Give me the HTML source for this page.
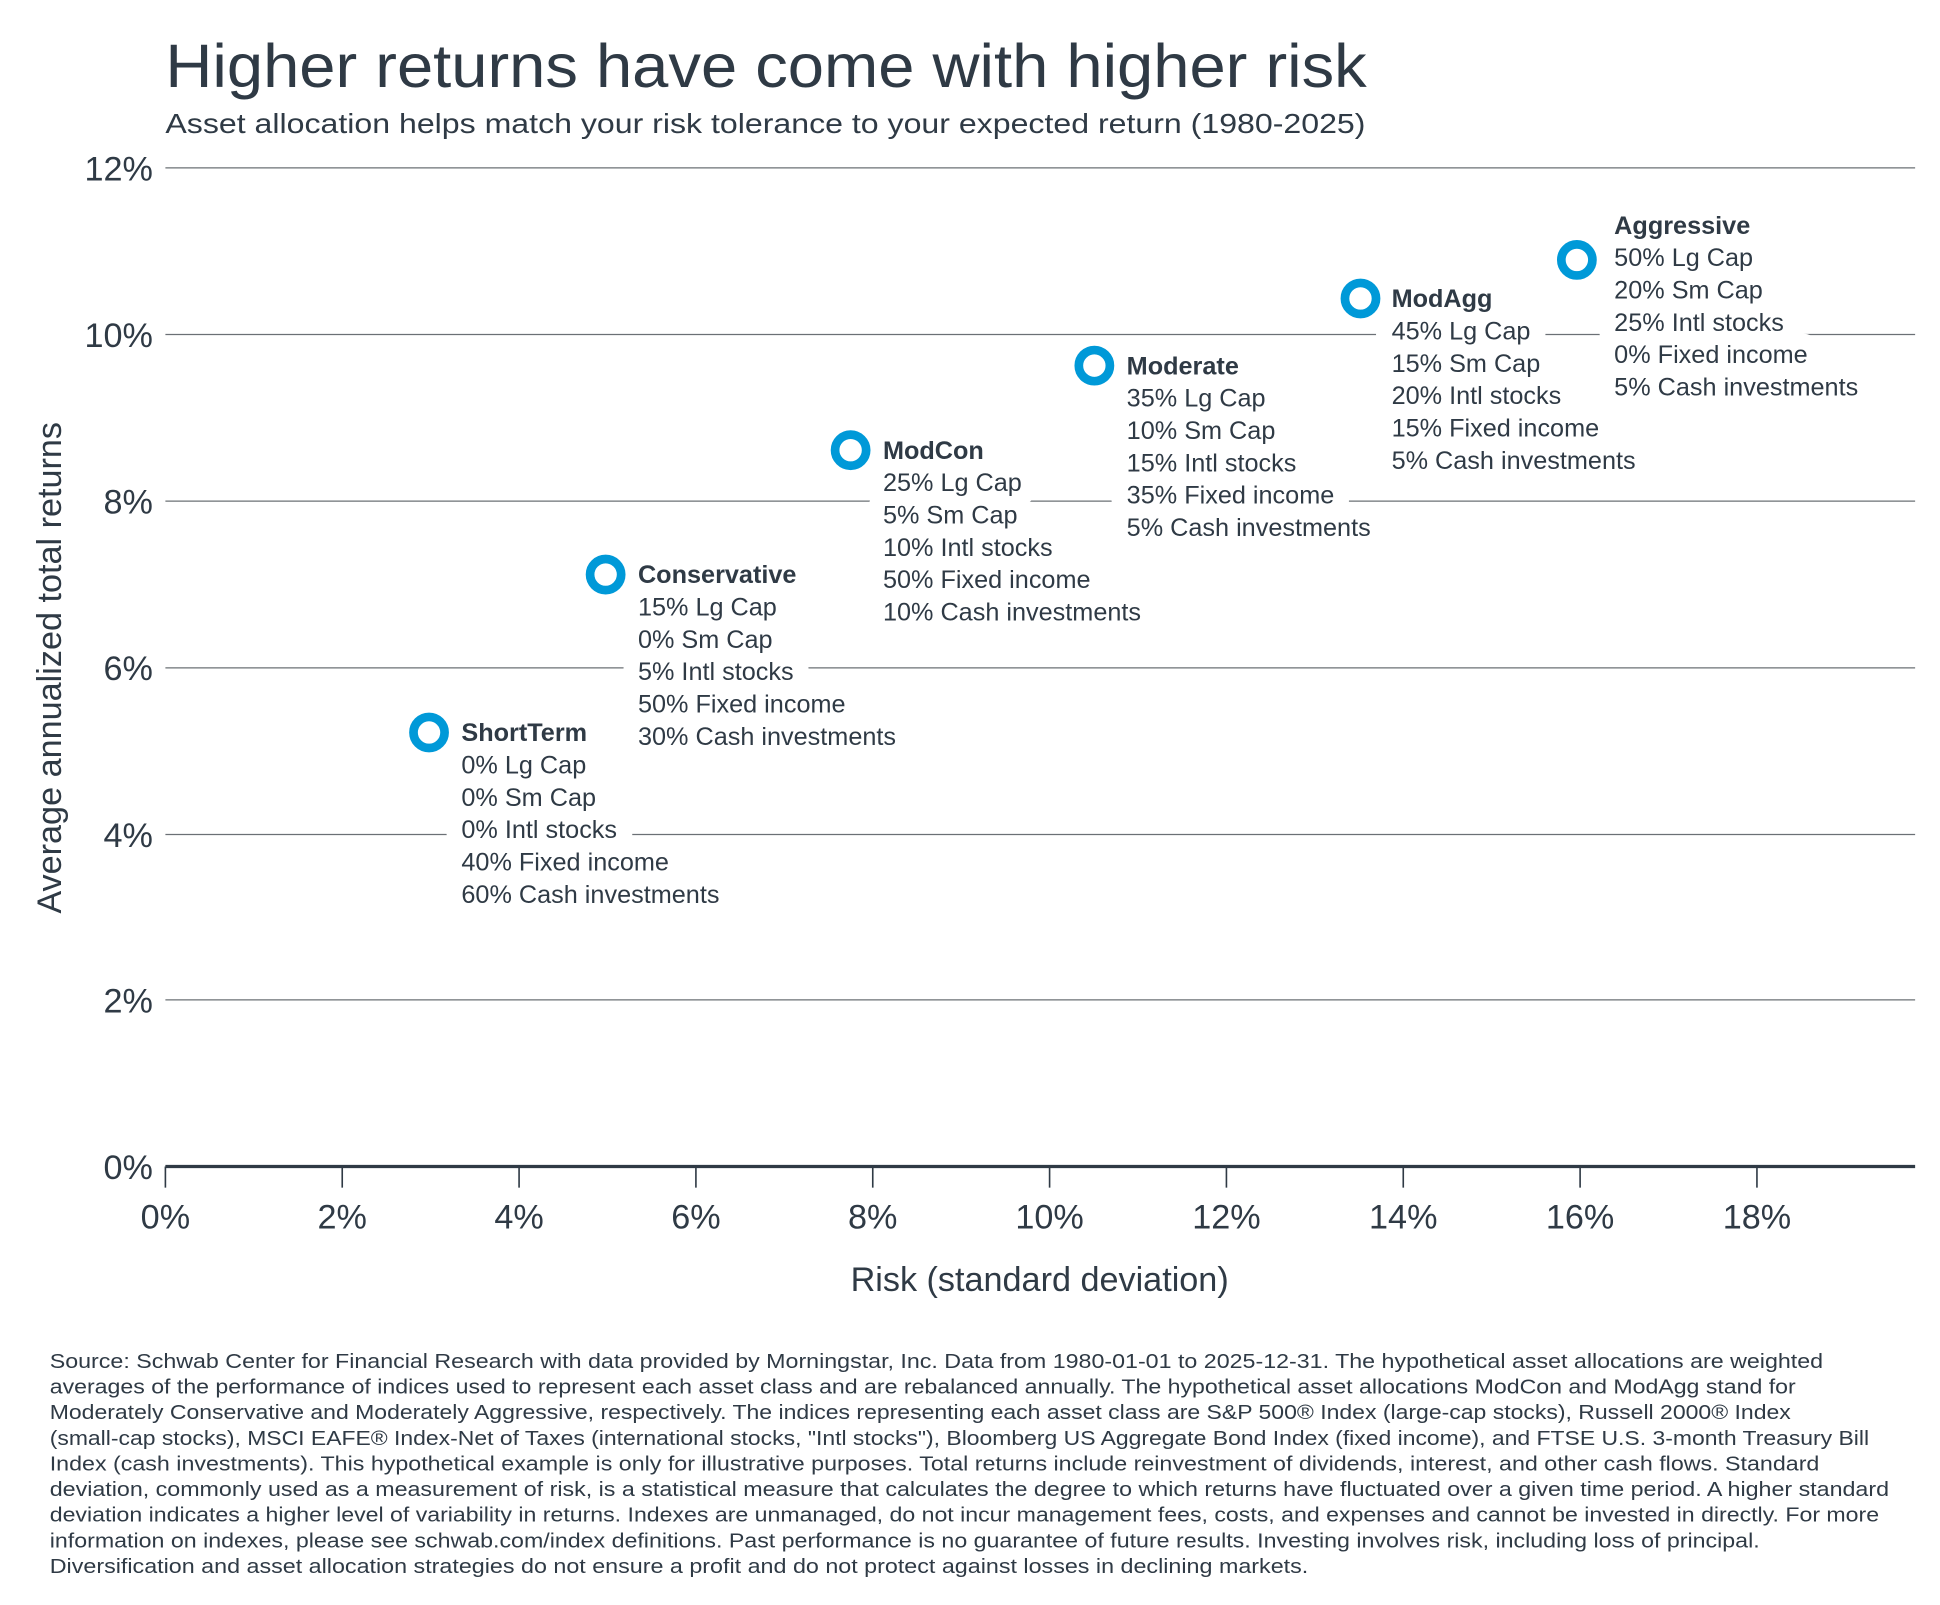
<!DOCTYPE html>
<html><head><meta charset="utf-8"><style>
html,body{margin:0;padding:0;background:#fff;}
svg{display:block;}
text{font-family:"Liberation Sans",sans-serif;}
.ax{font-size:27.5px;}
.fn{font-size:16.2px;}
</style></head><body>
<svg width="1940" height="1605" viewBox="0 0 1560 1290.6" preserveAspectRatio="none" xmlns="http://www.w3.org/2000/svg">
<g fill="#2f3a45">
<text x="133" y="70" style="font-size:49px" textLength="966" lengthAdjust="spacingAndGlyphs">Higher returns have come with higher risk</text>
<text x="133" y="107" style="font-size:22.5px" textLength="965" lengthAdjust="spacingAndGlyphs">Asset allocation helps match your risk tolerance to your expected return (1980-2025)</text>
</g>
<g stroke="#6b7075" stroke-width="1">
<line x1="133" x2="1540" y1="135" y2="135"/>
<line x1="133" x2="1540" y1="269" y2="269"/>
<line x1="133" x2="1540" y1="403" y2="403"/>
<line x1="133" x2="1540" y1="537" y2="537"/>
<line x1="133" x2="1540" y1="671" y2="671"/>
<line x1="133" x2="1540" y1="804" y2="804"/>
</g>
<g class="ax" text-anchor="end" fill="#2f3a45">
<text x="123" y="145">12%</text><text x="123" y="279">10%</text><text x="123" y="413">8%</text>
<text x="123" y="547">6%</text><text x="123" y="681">4%</text><text x="123" y="814">2%</text><text x="123" y="948">0%</text>
</g>
<g stroke="#2f3a45" stroke-width="1.3">
<line x1="133" y1="938" x2="133" y2="955"/><line x1="275.2" y1="938" x2="275.2" y2="955"/>
<line x1="417.4" y1="938" x2="417.4" y2="955"/><line x1="559.6" y1="938" x2="559.6" y2="955"/>
<line x1="701.8" y1="938" x2="701.8" y2="955"/><line x1="844" y1="938" x2="844" y2="955"/>
<line x1="986.2" y1="938" x2="986.2" y2="955"/><line x1="1128.4" y1="938" x2="1128.4" y2="955"/>
<line x1="1270.6" y1="938" x2="1270.6" y2="955"/><line x1="1412.8" y1="938" x2="1412.8" y2="955"/>
</g>
<line x1="133" y1="938" x2="1540" y2="938" stroke="#2f3a45" stroke-width="2.6"/>
<g class="ax" text-anchor="middle" fill="#2f3a45">
<text x="133" y="988">0%</text><text x="275.2" y="988">2%</text><text x="417.4" y="988">4%</text>
<text x="559.6" y="988">6%</text><text x="701.8" y="988">8%</text><text x="844" y="988">10%</text>
<text x="986.2" y="988">12%</text><text x="1128.4" y="988">14%</text><text x="1270.6" y="988">16%</text>
<text x="1412.8" y="988">18%</text>
<text x="836" y="1038">Risk (standard deviation)</text>
<text transform="translate(49,537) rotate(-90)">Average annualized total returns</text>
</g>
<!-- halo -->
<g font-size="20.3" fill="#fff" stroke="#fff" stroke-width="26" stroke-linejoin="round">
<text x="371" y="596"><tspan font-weight="bold">ShortTerm</tspan><tspan x="371" dy="26">0% Lg Cap</tspan><tspan x="371" dy="26">0% Sm Cap</tspan><tspan x="371" dy="26">0% Intl stocks</tspan><tspan x="371" dy="26">40% Fixed income</tspan><tspan x="371" dy="26">60% Cash investments</tspan></text>
<text x="513" y="469"><tspan font-weight="bold">Conservative</tspan><tspan x="513" dy="26">15% Lg Cap</tspan><tspan x="513" dy="26">0% Sm Cap</tspan><tspan x="513" dy="26">5% Intl stocks</tspan><tspan x="513" dy="26">50% Fixed income</tspan><tspan x="513" dy="26">30% Cash investments</tspan></text>
<text x="710" y="369"><tspan font-weight="bold">ModCon</tspan><tspan x="710" dy="26">25% Lg Cap</tspan><tspan x="710" dy="26">5% Sm Cap</tspan><tspan x="710" dy="26">10% Intl stocks</tspan><tspan x="710" dy="26">50% Fixed income</tspan><tspan x="710" dy="26">10% Cash investments</tspan></text>
<text x="906" y="301"><tspan font-weight="bold">Moderate</tspan><tspan x="906" dy="26">35% Lg Cap</tspan><tspan x="906" dy="26">10% Sm Cap</tspan><tspan x="906" dy="26">15% Intl stocks</tspan><tspan x="906" dy="26">35% Fixed income</tspan><tspan x="906" dy="26">5% Cash investments</tspan></text>
<text x="1119" y="247"><tspan font-weight="bold">ModAgg</tspan><tspan x="1119" dy="26">45% Lg Cap</tspan><tspan x="1119" dy="26">15% Sm Cap</tspan><tspan x="1119" dy="26">20% Intl stocks</tspan><tspan x="1119" dy="26">15% Fixed income</tspan><tspan x="1119" dy="26">5% Cash investments</tspan></text>
<text x="1298" y="188"><tspan font-weight="bold">Aggressive</tspan><tspan x="1298" dy="26">50% Lg Cap</tspan><tspan x="1298" dy="26">20% Sm Cap</tspan><tspan x="1298" dy="26">25% Intl stocks</tspan><tspan x="1298" dy="26">0% Fixed income</tspan><tspan x="1298" dy="26">5% Cash investments</tspan></text>
</g>
<!-- labels -->
<g font-size="20.3" fill="#2f3a45">
<text x="371" y="596"><tspan font-weight="bold">ShortTerm</tspan><tspan x="371" dy="26">0% Lg Cap</tspan><tspan x="371" dy="26">0% Sm Cap</tspan><tspan x="371" dy="26">0% Intl stocks</tspan><tspan x="371" dy="26">40% Fixed income</tspan><tspan x="371" dy="26">60% Cash investments</tspan></text>
<text x="513" y="469"><tspan font-weight="bold">Conservative</tspan><tspan x="513" dy="26">15% Lg Cap</tspan><tspan x="513" dy="26">0% Sm Cap</tspan><tspan x="513" dy="26">5% Intl stocks</tspan><tspan x="513" dy="26">50% Fixed income</tspan><tspan x="513" dy="26">30% Cash investments</tspan></text>
<text x="710" y="369"><tspan font-weight="bold">ModCon</tspan><tspan x="710" dy="26">25% Lg Cap</tspan><tspan x="710" dy="26">5% Sm Cap</tspan><tspan x="710" dy="26">10% Intl stocks</tspan><tspan x="710" dy="26">50% Fixed income</tspan><tspan x="710" dy="26">10% Cash investments</tspan></text>
<text x="906" y="301"><tspan font-weight="bold">Moderate</tspan><tspan x="906" dy="26">35% Lg Cap</tspan><tspan x="906" dy="26">10% Sm Cap</tspan><tspan x="906" dy="26">15% Intl stocks</tspan><tspan x="906" dy="26">35% Fixed income</tspan><tspan x="906" dy="26">5% Cash investments</tspan></text>
<text x="1119" y="247"><tspan font-weight="bold">ModAgg</tspan><tspan x="1119" dy="26">45% Lg Cap</tspan><tspan x="1119" dy="26">15% Sm Cap</tspan><tspan x="1119" dy="26">20% Intl stocks</tspan><tspan x="1119" dy="26">15% Fixed income</tspan><tspan x="1119" dy="26">5% Cash investments</tspan></text>
<text x="1298" y="188"><tspan font-weight="bold">Aggressive</tspan><tspan x="1298" dy="26">50% Lg Cap</tspan><tspan x="1298" dy="26">20% Sm Cap</tspan><tspan x="1298" dy="26">25% Intl stocks</tspan><tspan x="1298" dy="26">0% Fixed income</tspan><tspan x="1298" dy="26">5% Cash investments</tspan></text>
</g>
<g fill="#fff" stroke="#0099d8" stroke-width="7">
<circle cx="345" cy="589" r="12.5"/><circle cx="487" cy="462" r="12.5"/><circle cx="684" cy="362" r="12.5"/>
<circle cx="880" cy="294" r="12.5"/><circle cx="1094" cy="240" r="12.5"/><circle cx="1268" cy="209" r="12.5"/>
</g>
<g class="fn" fill="#2f3a45">
<text x="40" y="1100" textLength="1426" lengthAdjust="spacingAndGlyphs">Source: Schwab Center for Financial Research with data provided by Morningstar, Inc. Data from 1980-01-01 to 2025-12-31. The hypothetical asset allocations are weighted</text>
<text x="40" y="1120.6" textLength="1404" lengthAdjust="spacingAndGlyphs">averages of the performance of indices used to represent each asset class and are rebalanced annually. The hypothetical asset allocations ModCon and ModAgg stand for</text>
<text x="40" y="1141.2" textLength="1400" lengthAdjust="spacingAndGlyphs">Moderately Conservative and Moderately Aggressive, respectively. The indices representing each asset class are S&amp;P 500® Index (large-cap stocks), Russell 2000® Index</text>
<text x="40" y="1161.8" textLength="1463" lengthAdjust="spacingAndGlyphs">(small-cap stocks), MSCI EAFE® Index-Net of Taxes (international stocks, "Intl stocks"), Bloomberg US Aggregate Bond Index (fixed income), and FTSE U.S. 3-month Treasury Bill</text>
<text x="40" y="1182.4" textLength="1423" lengthAdjust="spacingAndGlyphs">Index (cash investments). This hypothetical example is only for illustrative purposes. Total returns include reinvestment of dividends, interest, and other cash flows. Standard</text>
<text x="40" y="1203" textLength="1479" lengthAdjust="spacingAndGlyphs">deviation, commonly used as a measurement of risk, is a statistical measure that calculates the degree to which returns have fluctuated over a given time period. A higher standard</text>
<text x="40" y="1223.6" textLength="1471" lengthAdjust="spacingAndGlyphs">deviation indicates a higher level of variability in returns. Indexes are unmanaged, do not incur management fees, costs, and expenses and cannot be invested in directly. For more</text>
<text x="40" y="1244.2" textLength="1375" lengthAdjust="spacingAndGlyphs">information on indexes, please see schwab.com/index definitions. Past performance is no guarantee of future results. Investing involves risk, including loss of principal.</text>
<text x="40" y="1264.8" textLength="1012" lengthAdjust="spacingAndGlyphs">Diversification and asset allocation strategies do not ensure a profit and do not protect against losses in declining markets.</text>
</g>
</svg>
</body></html>
